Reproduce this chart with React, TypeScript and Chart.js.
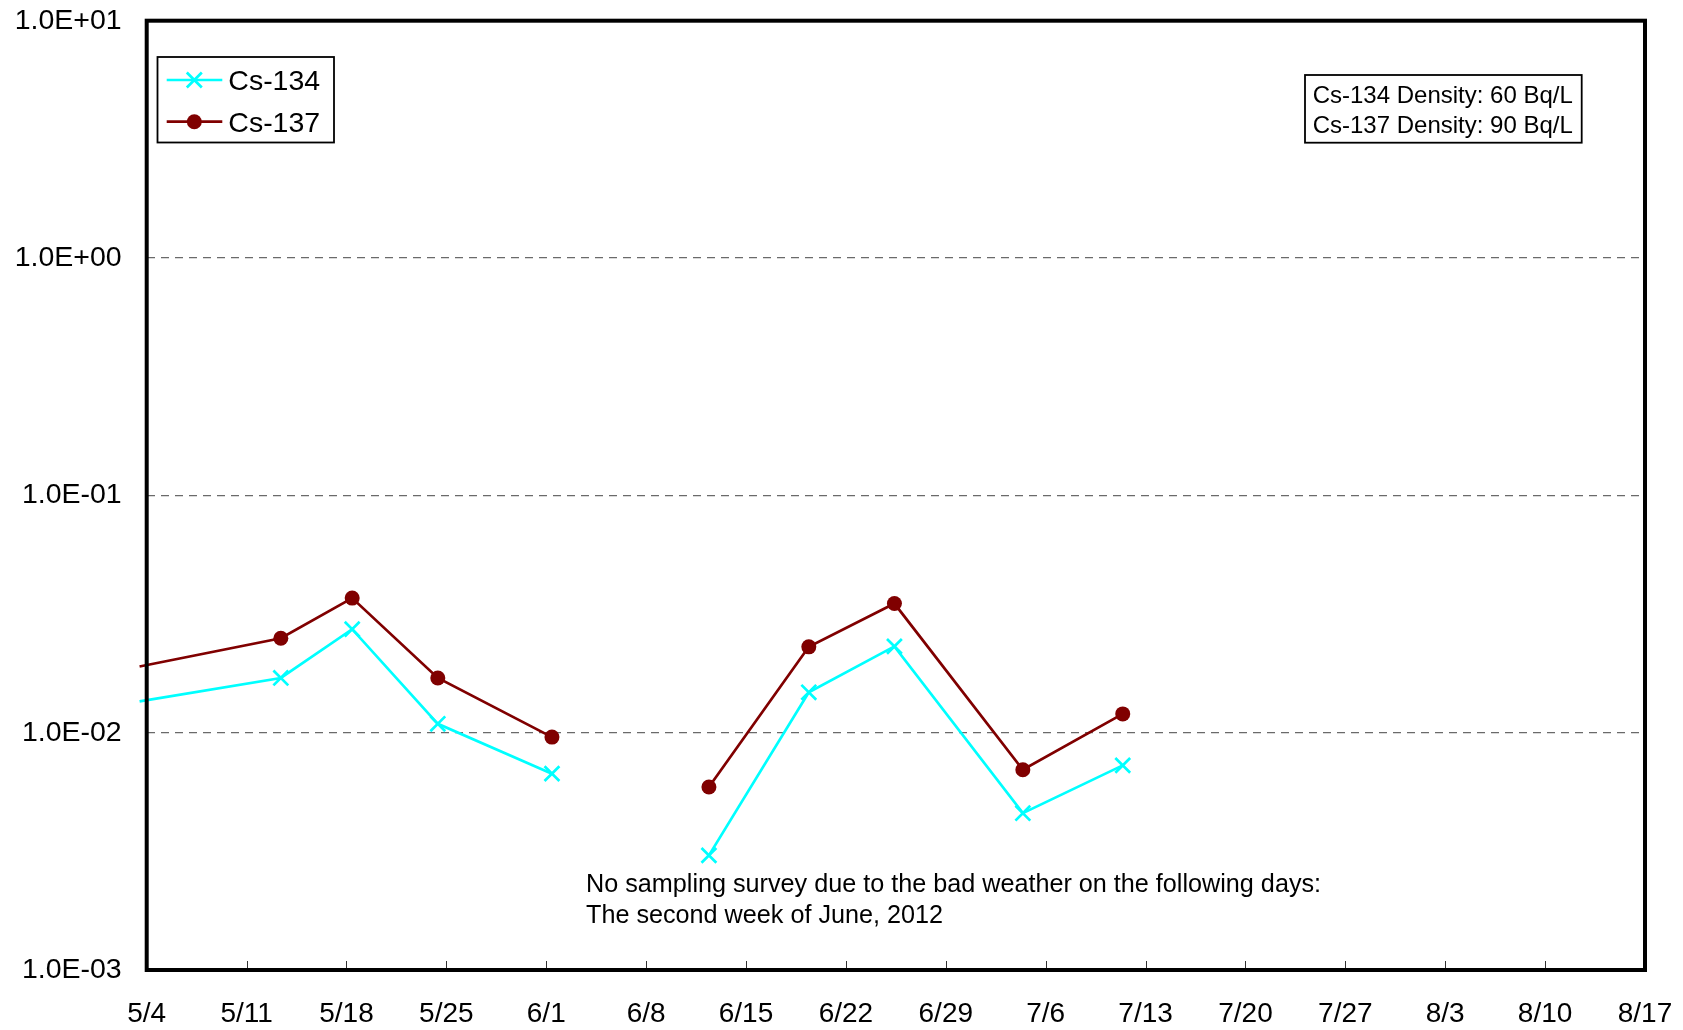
import React, { useEffect, useRef } from 'react';
import { Chart, registerables } from 'chart.js';

Chart.register(...registerables);

// ---- data ----
const xTickLabels = ['5/4', '5/11', '5/18', '5/25', '6/1', '6/8', '6/15', '6/22', '6/29', '7/6', '7/13', '7/20', '7/27', '8/3', '8/10', '8/17'];
// sampling time, in days after 5/4 (null value = no survey)
const sampleDays = [-0.5, 9.4, 14.4, 20.4, 28.4, 34, 39.4, 46.4, 52.4, 61.4, 68.4];
const cs134 = [0.01355, 0.0170, 0.0273, 0.0109, 0.00672, null, 0.00304, 0.0148, 0.0231, 0.00458, 0.00728];
const cs137 = [0.0190, 0.0250, 0.0369, 0.0170, 0.00958, null, 0.00590, 0.0230, 0.0350, 0.00698, 0.0120];
const yTickValues = [0.001, 0.01, 0.1, 1, 10];
const yTickLabels = ['1.0E-03', '1.0E-02', '1.0E-01', '1.0E+00', '1.0E+01'];
const seriesNames = ['Cs-134', 'Cs-137'];
const densityLines = ['Cs-134 Density: 60 Bq/L', 'Cs-137 Density: 90 Bq/L'];
const noteLines = ['No sampling survey due to the bad weather on the following days:', 'The second week of June, 2012'];

const FONT = '"Liberation Sans", Arial, sans-serif';
const CYAN = '#00FFFF';
const MAROON = '#800000';

const overlayPlugin = {
  id: 'overlay',
  afterDraw(chart: any) {
    const { ctx, chartArea } = chart;
    const xs = chart.scales.x;
    ctx.save();
    // inner tick marks on x axis
    ctx.strokeStyle = '#333';
    ctx.lineWidth = 1;
    xs.ticks.forEach((t: any, i: number) => {
      if (i === 0 || i === xs.ticks.length - 1) return;
      const px = Math.round(xs.getPixelForValue(t.value)) + 0.5;
      ctx.beginPath();
      ctx.moveTo(px, chartArea.bottom);
      ctx.lineTo(px, chartArea.bottom - 9);
      ctx.stroke();
    });
    // frame
    ctx.strokeStyle = '#000';
    ctx.lineWidth = 4;
    ctx.strokeRect(chartArea.left, chartArea.top, chartArea.right - chartArea.left, chartArea.bottom - chartArea.top);

    // legend
    const lx = 157.5, ly = 57, lw = 176.5, lh = 85.5;
    ctx.fillStyle = '#fff';
    ctx.fillRect(lx, ly, lw, lh);
    ctx.lineWidth = 1.8;
    ctx.strokeStyle = '#000';
    ctx.strokeRect(lx, ly, lw, lh);
    const rows = [80, 121.7];
    ctx.font = `28.5px ${FONT}`;
    ctx.textBaseline = 'alphabetic';
    ctx.textAlign = 'left';
    rows.forEach((ry, i) => {
      const col = i === 0 ? CYAN : MAROON;
      ctx.strokeStyle = col;
      ctx.lineWidth = 2.7;
      ctx.beginPath();
      ctx.moveTo(166.7, ry);
      ctx.lineTo(222.3, ry);
      ctx.stroke();
      const mx = 194.3;
      if (i === 0) {
        const d = 7.5;
        ctx.beginPath();
        ctx.moveTo(mx - d, ry - d);
        ctx.lineTo(mx + d, ry + d);
        ctx.moveTo(mx - d, ry + d);
        ctx.lineTo(mx + d, ry - d);
        ctx.stroke();
      } else {
        ctx.fillStyle = col;
        ctx.beginPath();
        ctx.arc(mx, ry, 7.5, 0, Math.PI * 2);
        ctx.fill();
      }
      ctx.fillStyle = '#000';
      ctx.fillText(seriesNames[i], 228.3, ry + 10);
    });

    // density box
    ctx.lineWidth = 1.8;
    ctx.strokeStyle = '#000';
    ctx.strokeRect(1305, 75, 276.7, 67.7);
    ctx.font = `24px ${FONT}`;
    ctx.fillStyle = '#000';
    ctx.fillText(densityLines[0], 1312.7, 102.7);
    ctx.fillText(densityLines[1], 1312.7, 132.7);

    // note
    ctx.font = `25.2px ${FONT}`;
    ctx.fillText(noteLines[0], 586, 891.7);
    ctx.fillText(noteLines[1], 586, 923);
    ctx.restore();
  },
};

export default function App() {
  const ref = useRef<HTMLCanvasElement | null>(null);
  useEffect(() => {
    document.body.style.margin = '0';
    const canvas = ref.current;
    if (!canvas) return;
    const mk = (vals: (number | null)[]) => sampleDays.map((d, i) => ({ x: d, y: vals[i] }));
    const chart = new Chart(canvas, {
      type: 'line',
      data: {
        datasets: [
          {
            label: seriesNames[0],
            data: mk(cs134) as any,
            borderColor: CYAN,
            backgroundColor: CYAN,
            borderWidth: 2.7,
            pointStyle: 'crossRot',
            pointRadius: (c: any) => (c.dataIndex === 0 ? 0 : 10.5),
            pointBorderWidth: 2.7,
            pointBorderColor: CYAN,
            spanGaps: false,
            clip: { left: 8, top: 0, right: 0, bottom: 0 } as any,
            order: 2,
          },
          {
            label: seriesNames[1],
            data: mk(cs137) as any,
            borderColor: MAROON,
            backgroundColor: MAROON,
            borderWidth: 2.7,
            pointStyle: 'circle',
            pointRadius: (c: any) => (c.dataIndex === 0 ? 0 : 7.5),
            pointBorderWidth: 0,
            pointBackgroundColor: MAROON,
            spanGaps: false,
            clip: { left: 8, top: 0, right: 0, bottom: 0 } as any,
            order: 1,
          },
        ],
      },
      options: {
        responsive: false,
        animation: false,
        devicePixelRatio: 1,
        layout: { padding: { left: 0, right: 38, top: 20.7, bottom: 0 } },
        plugins: {
          legend: { display: false },
          tooltip: { enabled: false },
        },
        elements: { line: { tension: 0 } },
        scales: {
          x: {
            type: 'linear',
            min: 0,
            max: 105,
            grid: { display: false, drawTicks: false },
            border: { display: false },
            afterFit: (s: any) => { s.height = 60; s.paddingLeft = 0; s.paddingRight = 0; },
            ticks: {
              stepSize: 7,
              autoSkip: false,
              maxRotation: 0,
              padding: 27,
              color: '#000',
              font: { family: FONT, size: 28 },
              callback: (v: any) => xTickLabels[Math.round(Number(v) / 7)],
            },
          },
          y: {
            type: 'logarithmic',
            min: 0.001,
            max: 10,
            afterFit: (s: any) => { s.width = 146.7; s.paddingTop = 0; s.paddingBottom = 0; },
            afterBuildTicks: (s: any) => { s.ticks = yTickValues.map((v) => ({ value: v })); },
            grid: { color: '#6a6a6a', lineWidth: 1.3, drawTicks: false },
            border: { display: false, dash: [8, 6] },
            ticks: {
              autoSkip: false,
              padding: 25,
              color: '#000',
              font: { family: FONT, size: 28.5 },
              callback: (_v: any, i: number) => yTickLabels[i],
            },
          },
        },
      },
      plugins: [overlayPlugin],
    });
    return () => chart.destroy();
  }, []);
  return (
    <div style={{ position: 'absolute', left: 0, top: 0, width: 1683, height: 1030, background: '#fff' }}>
      <canvas ref={ref} width={1683} height={1030} style={{ display: 'block' }} />
    </div>
  );
}
